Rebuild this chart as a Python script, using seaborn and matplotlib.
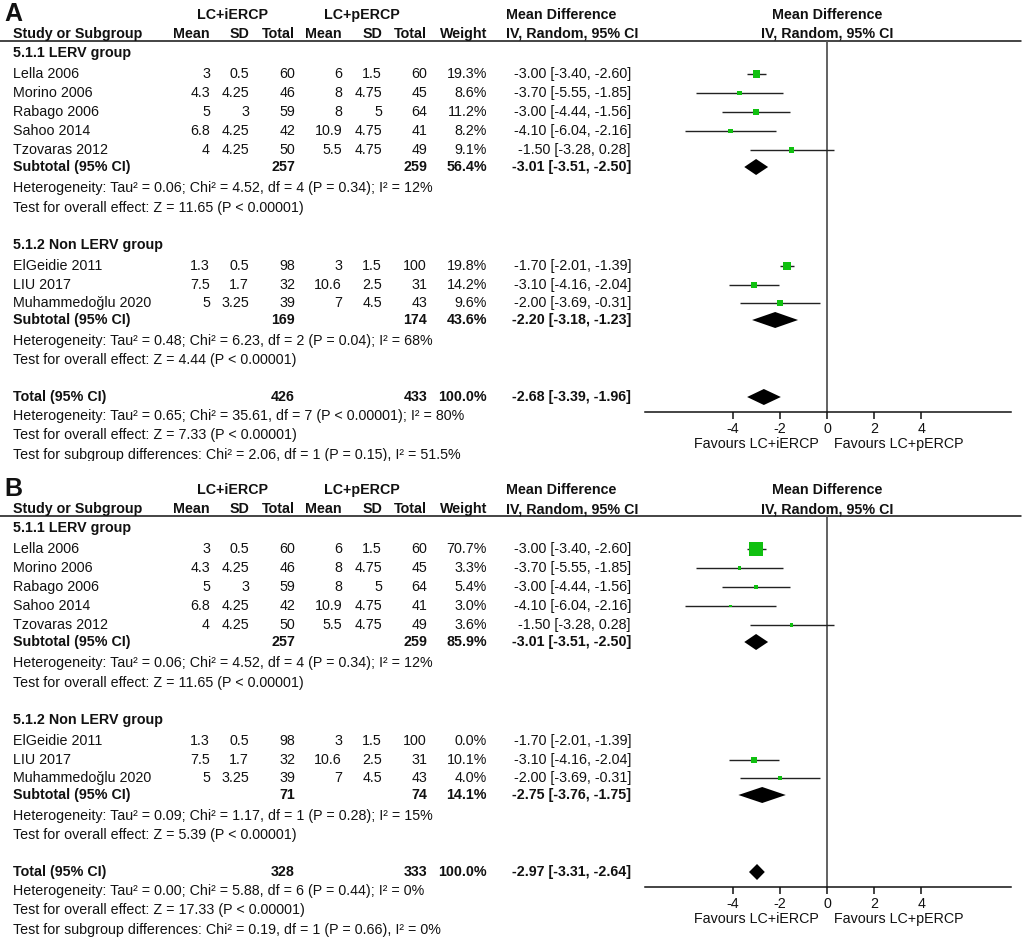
import numpy as np
import pandas as pd
import matplotlib
matplotlib.use('Agg')
import matplotlib.pyplot as plt
import seaborn as sns

# ---- data ----
studies = ['Lella 2006', 'Morino 2006', 'Rabago 2006', 'Sahoo 2014', 'Tzovaras 2012',
           'ElGeidie 2011', 'LIU 2017', 'Muhammedoğlu 2020']
group = [1, 1, 1, 1, 1, 2, 2, 2]
mean_i = [3, 4.3, 5, 6.8, 4, 1.3, 7.5, 5]
sd_i = [0.5, 4.25, 3, 4.25, 4.25, 0.5, 1.7, 3.25]
n_i = [60, 46, 59, 42, 50, 98, 32, 39]
mean_p = [6, 8, 8, 10.9, 5.5, 3, 10.6, 7]
sd_p = [1.5, 4.75, 5, 4.75, 4.75, 1.5, 2.5, 4.5]
n_p = [60, 45, 64, 41, 49, 100, 31, 43]
md = [-3.00, -3.70, -3.00, -4.10, -1.50, -1.70, -3.10, -2.00]
md_lo = [-3.40, -5.55, -4.44, -6.04, -3.28, -2.01, -4.16, -3.69]
md_hi = [-2.60, -1.85, -1.56, -2.16, 0.28, -1.39, -2.04, -0.31]
weight_a = [19.3, 8.6, 11.2, 8.2, 9.1, 19.8, 14.2, 9.6]
weight_b = [70.7, 3.3, 5.4, 3.0, 3.6, 0.0, 10.1, 4.0]

# pooled rows: subgroup 1, subgroup 2, total
pool_ni_a = [257, 169, 426]
pool_np_a = [259, 174, 433]
pool_w_a = [56.4, 43.6, 100.0]
pool_md_a = [-3.01, -2.20, -2.68]
pool_lo_a = [-3.51, -3.18, -3.39]
pool_hi_a = [-2.50, -1.23, -1.96]

pool_ni_b = [257, 71, 328]
pool_np_b = [259, 74, 333]
pool_w_b = [85.9, 14.1, 100.0]
pool_md_b = [-3.01, -2.75, -2.97]
pool_lo_b = [-3.51, -3.76, -3.31]
pool_hi_b = [-2.50, -1.75, -2.64]

notes_a = [
    ['Heterogeneity: Tau² = 0.06; Chi² = 4.52, df = 4 (P = 0.34); I² = 12%',
     'Test for overall effect: Z = 11.65 (P < 0.00001)'],
    ['Heterogeneity: Tau² = 0.48; Chi² = 6.23, df = 2 (P = 0.04); I² = 68%',
     'Test for overall effect: Z = 4.44 (P < 0.00001)'],
    ['Heterogeneity: Tau² = 0.65; Chi² = 35.61, df = 7 (P < 0.00001); I² = 80%',
     'Test for overall effect: Z = 7.33 (P < 0.00001)',
     'Test for subgroup differences: Chi² = 2.06, df = 1 (P = 0.15), I² = 51.5%'],
]
notes_b = [
    ['Heterogeneity: Tau² = 0.06; Chi² = 4.52, df = 4 (P = 0.34); I² = 12%',
     'Test for overall effect: Z = 11.65 (P < 0.00001)'],
    ['Heterogeneity: Tau² = 0.09; Chi² = 1.17, df = 1 (P = 0.28); I² = 15%',
     'Test for overall effect: Z = 5.39 (P < 0.00001)'],
    ['Heterogeneity: Tau² = 0.00; Chi² = 5.88, df = 6 (P = 0.44); I² = 0%',
     'Test for overall effect: Z = 17.33 (P < 0.00001)',
     'Test for subgroup differences: Chi² = 0.19, df = 1 (P = 0.66), I² = 0%'],
]
group_names = ['5.1.1 LERV group', '5.1.2 Non LERV group']
ticks = [-4, -2, 0, 2, 4]

# ---- layout (pixels) ----
W, H = 1026, 938
sns.set_style('white')
plt.rcParams['font.family'] = ['Liberation Sans', 'DejaVu Sans']
FS = 10.3
TXT = '#111111'

# row centres inside a panel
study_y = [74, 93, 112, 131, 150, 266, 285, 303]
group_y = [53, 245]
sub_y = [167, 320, 397]
note_y = [[188, 208], [341, 360], [416, 435, 455]]
col_right = [210, 249, 295, 342, 382, 427, 487]
ci_right = 631

fig = plt.figure(figsize=(W / 100, H / 100), dpi=100)


def fmt(v):
    return f'{v:g}'


def ci_txt(m, l, h):
    return f'{m:.2f} [{l:.2f}, {h:.2f}]'


def panel(label, oy, top, bottom, weight, p_ni, p_np, p_w, p_md, p_lo, p_hi, notes):
    ax = fig.add_axes([0, 1 - bottom / H, 1, (bottom - top) / H])
    ax.set_xlim(0, W)
    ax.set_ylim(bottom, top)
    ax.axis('off')

    def t(x, y, s, ha='left', bold=False, size=FS):
        ax.text(x, y + oy, s, ha=ha, va='center', fontsize=size, color=TXT,
                fontweight='bold' if bold else 'normal', clip_on=True)

    t(4, 14, label, bold=True, size=18)
    t(232, 15, 'LC+iERCP', ha='center', bold=True)
    t(362, 15, 'LC+pERCP', ha='center', bold=True)
    t(506, 15, 'Mean Difference', bold=True)
    t(827, 15, 'Mean Difference', ha='center', bold=True)
    t(13, 34, 'Study or Subgroup', bold=True)
    for x, s in zip(col_right, ['Mean', 'SD', 'Total', 'Mean', 'SD', 'Total', 'Weight']):
        t(x, 34, s, ha='right', bold=True)
    t(506, 34, 'IV, Random, 95% CI', bold=True)
    t(827, 34, 'IV, Random, 95% CI', ha='center', bold=True)
    ax.plot([0, 1021], [oy + 41, oy + 41], color=TXT, lw=1.1)

    for g, gy in zip(group_names, group_y):
        t(13, gy, g, bold=True)
    for i, s in enumerate(studies):
        y = study_y[i]
        t(13, y, s)
        vals = [fmt(mean_i[i]), fmt(sd_i[i]), str(n_i[i]), fmt(mean_p[i]),
                fmt(sd_p[i]), str(n_p[i]), f'{weight[i]:.1f}%']
        for x, v in zip(col_right, vals):
            t(x, y, v, ha='right')
        t(ci_right, y, ci_txt(md[i], md_lo[i], md_hi[i]), ha='right')
    names = ['Subtotal (95% CI)', 'Subtotal (95% CI)', 'Total (95% CI)']
    for k in range(3):
        y = sub_y[k]
        t(13, y, names[k], bold=True)
        t(col_right[2], y, str(p_ni[k]), ha='right', bold=True)
        t(col_right[5], y, str(p_np[k]), ha='right', bold=True)
        t(col_right[6], y, f'{p_w[k]:.1f}%', ha='right', bold=True)
        t(ci_right, y, ci_txt(p_md[k], p_lo[k], p_hi[k]), ha='right', bold=True)
        for s, ny in zip(notes[k], note_y[k]):
            t(13, ny, s)
    t(819, 444, 'Favours LC+iERCP', ha='right')
    t(834, 444, 'Favours LC+pERCP')

    # forest plot axis
    fx0, fx1 = 645, 1011
    fy0, fy1 = oy + 41, oy + 412
    fa = fig.add_axes([fx0 / W, 1 - fy1 / H, (fx1 - fx0) / W, (fy1 - fy0) / H])
    fa.set_facecolor('none')
    fa.set_xlim(-7.72, 7.8)
    fa.set_ylim(fy1, fy0)
    fa.axvline(0, color='#555555', lw=1.3, zorder=1)

    df = pd.DataFrame({'md': md, 'lo': md_lo, 'hi': md_hi, 'w': weight,
                       'y': [v + oy for v in study_y]})
    df = df[df['w'] > 0]
    fa.hlines(df['y'], df['lo'], df['hi'], color='#222222', lw=1.0, zorder=2)
    sns.scatterplot(data=df, x='md', y='y', size='w', sizes=(0, 150), size_norm=(0, 100),
                    marker='s', color='#10c010', linewidth=0, legend=False, ax=fa, zorder=3)
    for k in range(3):
        yc = sub_y[k] + oy
        fa.fill([p_lo[k], p_md[k], p_hi[k], p_md[k]], [yc, yc - 8, yc, yc + 8],
                color='black', lw=0, zorder=3)

    fa.set_xlabel('')
    fa.set_ylabel('')
    fa.set_yticks([])
    fa.set_xticks(ticks)
    fa.set_xticklabels([str(v) for v in ticks], fontsize=FS, color=TXT)
    fa.tick_params(axis='x', direction='out', length=5, width=1.1, color=TXT, pad=2.5, bottom=True)
    for side in ['top', 'left', 'right']:
        fa.spines[side].set_visible(False)
    fa.spines['bottom'].set_color(TXT)
    fa.spines['bottom'].set_linewidth(1.1)


panel('A', 0, 0, 461, weight_a, pool_ni_a, pool_np_a, pool_w_a, pool_md_a, pool_lo_a,
      pool_hi_a, notes_a)
panel('B', 475, 466, 938, weight_b, pool_ni_b, pool_np_b, pool_w_b, pool_md_b, pool_lo_b,
      pool_hi_b, notes_b)

fig.savefig('out.png', dpi=100)
